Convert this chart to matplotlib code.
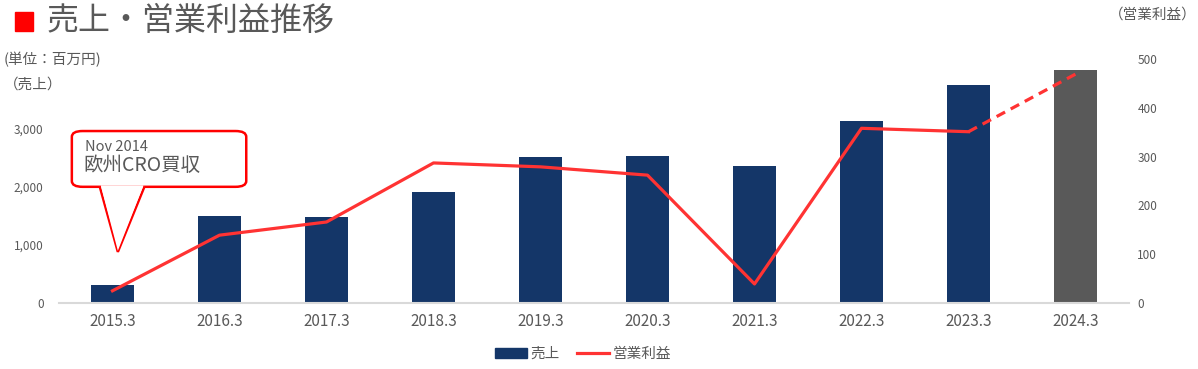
import numpy as np
import matplotlib.pyplot as plt
from matplotlib.patches import FancyBboxPatch, Polygon, Patch
from matplotlib.lines import Line2D

plt.rcParams['font.family'] = ['Noto Sans CJK JP', 'DejaVu Sans']

years = ['2015.3', '2016.3', '2017.3', '2018.3', '2019.3',
         '2020.3', '2021.3', '2022.3', '2023.3', '2024.3']
sales = [310, 1490, 1475, 1905, 2505, 2535, 2350, 3135, 3755, 4010]
op_profit = [25, 139, 166, 287, 279, 262, 39, 358, 351, 469]

navy = '#143668'
forecast_gray = '#595959'
line_red = '#FF3333'
text_gray = '#595959'

fig = plt.figure(figsize=(11.98, 3.69), dpi=100)
ax = fig.add_axes([59 / 1198, 66 / 369, 1070 / 1198, 244 / 369])
ax2 = ax.twinx()

x = np.arange(len(years))
colors = [navy] * (len(years) - 1) + [forecast_gray]
ax.bar(x, sales, width=0.4, color=colors, zorder=2)
ax.set_xlim(-0.5, len(years) - 0.5)
ax.set_ylim(0, 4200)
ax.set_yticks([0, 1000, 2000, 3000])
ax.set_yticklabels(['0', '1,000', '2,000', '3,000'])
ax.set_xticks(x)
ax.set_xticklabels(years)

ax2.plot(x[:-1], op_profit[:-1], color=line_red, lw=2.3, zorder=3)
ax2.plot(x[-2:], op_profit[-2:], color=line_red, lw=2.3, ls=(0, (3, 2)), zorder=3)
ax2.set_ylim(0, 500)
ax2.set_yticks([0, 100, 200, 300, 400, 500])

for a in (ax, ax2):
    for s in a.spines.values():
        s.set_visible(False)
    a.tick_params(length=0, colors=text_gray)
ax.spines['bottom'].set_visible(True)
ax.spines['bottom'].set_color('#D9D9D9')
ax.spines['bottom'].set_linewidth(1.5)
ax.tick_params(axis='y', labelsize=8.5, pad=11)
ax.tick_params(axis='x', labelsize=11, pad=7)
ax2.tick_params(axis='y', labelsize=8.5, pad=6)

# title and unit labels
fig.patches.append(plt.Rectangle((15 / 1198, 1 - 31 / 369), 18 / 1198, 19 / 369,
                                 transform=fig.transFigure, color='#FF0000'))
fig.text(47 / 1198, 1 - 21 / 369, '売上・営業利益推移', fontsize=23,
         color=text_gray, va='center', ha='left')
fig.text(4 / 1198, 1 - 60 / 369, '(単位：百万円)', fontsize=10.5,
         color=text_gray, va='center', ha='left')
fig.text(4 / 1198, 1 - 85 / 369, '（売上）', fontsize=10.5,
         color=text_gray, va='center', ha='left')
fig.text(1197 / 1198, 1 - 15 / 369, '（営業利益）', fontsize=10.5,
         color=text_gray, va='center', ha='right')

# callout
box = FancyBboxPatch((-0.38, 2000), 1.63, 960,
                     boxstyle='round,pad=0,rounding_size=0.1',
                     mutation_aspect=1000,
                     fc='white', ec='#FF0000', lw=1.8, zorder=4)
ax.add_patch(box)
tri = Polygon([(-0.12, 2010), (0.05, 880), (0.30, 2010)], closed=False,
              fc='white', ec='#FF0000', lw=1.8, zorder=5)
ax.add_patch(tri)
ax.add_patch(Polygon([(-0.11, 2025), (0.05, 900), (0.29, 2025)],
                     fc='white', ec='none', zorder=5))
ax.text(-0.26, 2680, 'Nov 2014', fontsize=10.5, color=text_gray, va='center', zorder=6)
ax.text(-0.27, 2370, '欧州CRO買収', fontsize=14, color=text_gray, va='center', zorder=6)

handles = [Patch(color=navy), Line2D([0], [0], color=line_red, lw=2.3)]
fig.legend(handles, ['売上', '営業利益'], loc='center', bbox_to_anchor=(583 / 1198, 1 - 354 / 369),
           ncol=2, frameon=False, fontsize=10.5, handlelength=2.2, handletextpad=0.2,
           columnspacing=1.2, labelcolor=text_gray)

fig.savefig('out.png', dpi=100)
